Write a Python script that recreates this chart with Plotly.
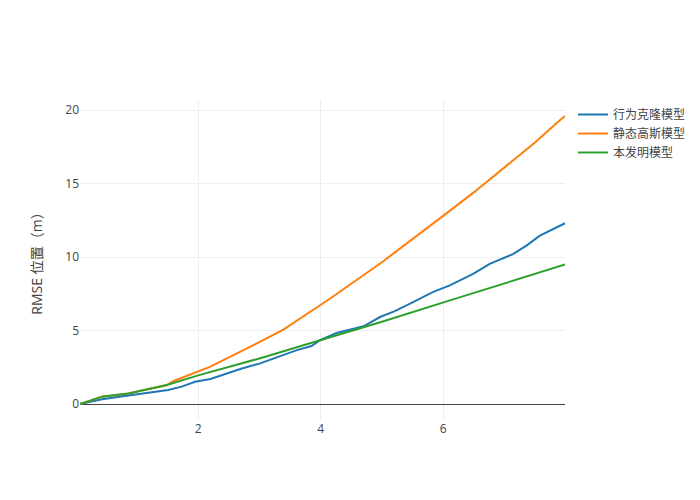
import plotly.graph_objects as go

# Time / horizon (x) and RMSE position values
x_bc = [0.07, 0.43, 0.8, 1.2, 1.51, 1.73, 1.95, 2.2, 2.4, 2.7, 3.0, 3.3, 3.6, 3.85, 3.99,
        4.26, 4.45, 4.7, 4.97, 5.2, 5.46, 5.83, 6.1, 6.27, 6.49, 6.76, 7.14, 7.36, 7.58, 7.99]
y_bc = [0.0, 0.32, 0.55, 0.8, 0.95, 1.18, 1.51, 1.7, 2.0, 2.4, 2.75, 3.2, 3.65, 3.95, 4.34,
        4.83, 5.05, 5.29, 5.92, 6.3, 6.83, 7.61, 8.05, 8.4, 8.86, 9.54, 10.2, 10.78, 11.46, 12.3]

x_sg = [0.07, 0.43, 0.86, 1.49, 1.55, 1.62, 2.19, 2.74, 3.39, 4.15, 5.0, 5.5, 6.0,
        6.5, 7.0, 7.5, 7.85, 7.99]
y_sg = [0.0, 0.5, 0.72, 1.29, 1.45, 1.6, 2.53, 3.66, 5.06, 7.16, 9.65, 11.2, 12.8,
        14.4, 16.1, 17.8, 19.1, 19.6]

x_pm = [0.07, 0.43, 0.86, 1.49, 2.0, 3.0, 3.99, 5.0, 6.11, 7.14, 7.99]
y_pm = [0.0, 0.5, 0.72, 1.29, 1.95, 3.1, 4.34, 5.6, 7.05, 8.4, 9.49]

names = ["行为克隆模型", "静态高斯模型", "本发明模型"]
colors = ["#1f77b4", "#ff7f0e", "#2ca02c"]
y_title = "RMSE 位置（m）"

fig = go.Figure()
for xs, ys, n, c in zip([x_bc, x_sg, x_pm], [y_bc, y_sg, y_pm], names, colors):
    fig.add_trace(go.Scatter(x=xs, y=ys, mode="lines", name=n,
                             line=dict(color=c, width=2)))

# page body has an 8px margin, so the figure is sized/margined to land at the same place
fig.update_layout(
    width=692, height=492,
    template="none",
    plot_bgcolor="white", paper_bgcolor="white",
    font=dict(family="Open Sans, Noto Sans CJK JP, sans-serif", size=12, color="#444"),
    yaxis=dict(title=dict(text=y_title), tickvals=[0, 5, 10, 15, 20],
               gridcolor="#eee", zeroline=True, zerolinecolor="#444", zerolinewidth=1,
               showline=False, ticks=""),
    xaxis=dict(tickvals=[2, 4, 6], gridcolor="#eee", zeroline=False, showline=False, ticks=""),
    margin=dict(l=72, r=135, t=92, b=80, autoexpand=False),
    legend=dict(font=dict(size=12), xref="container", yref="container",
                x=565 / 692, y=1 - 92 / 492, xanchor="left", yanchor="top"),
)

fig.write_html("out.html")
